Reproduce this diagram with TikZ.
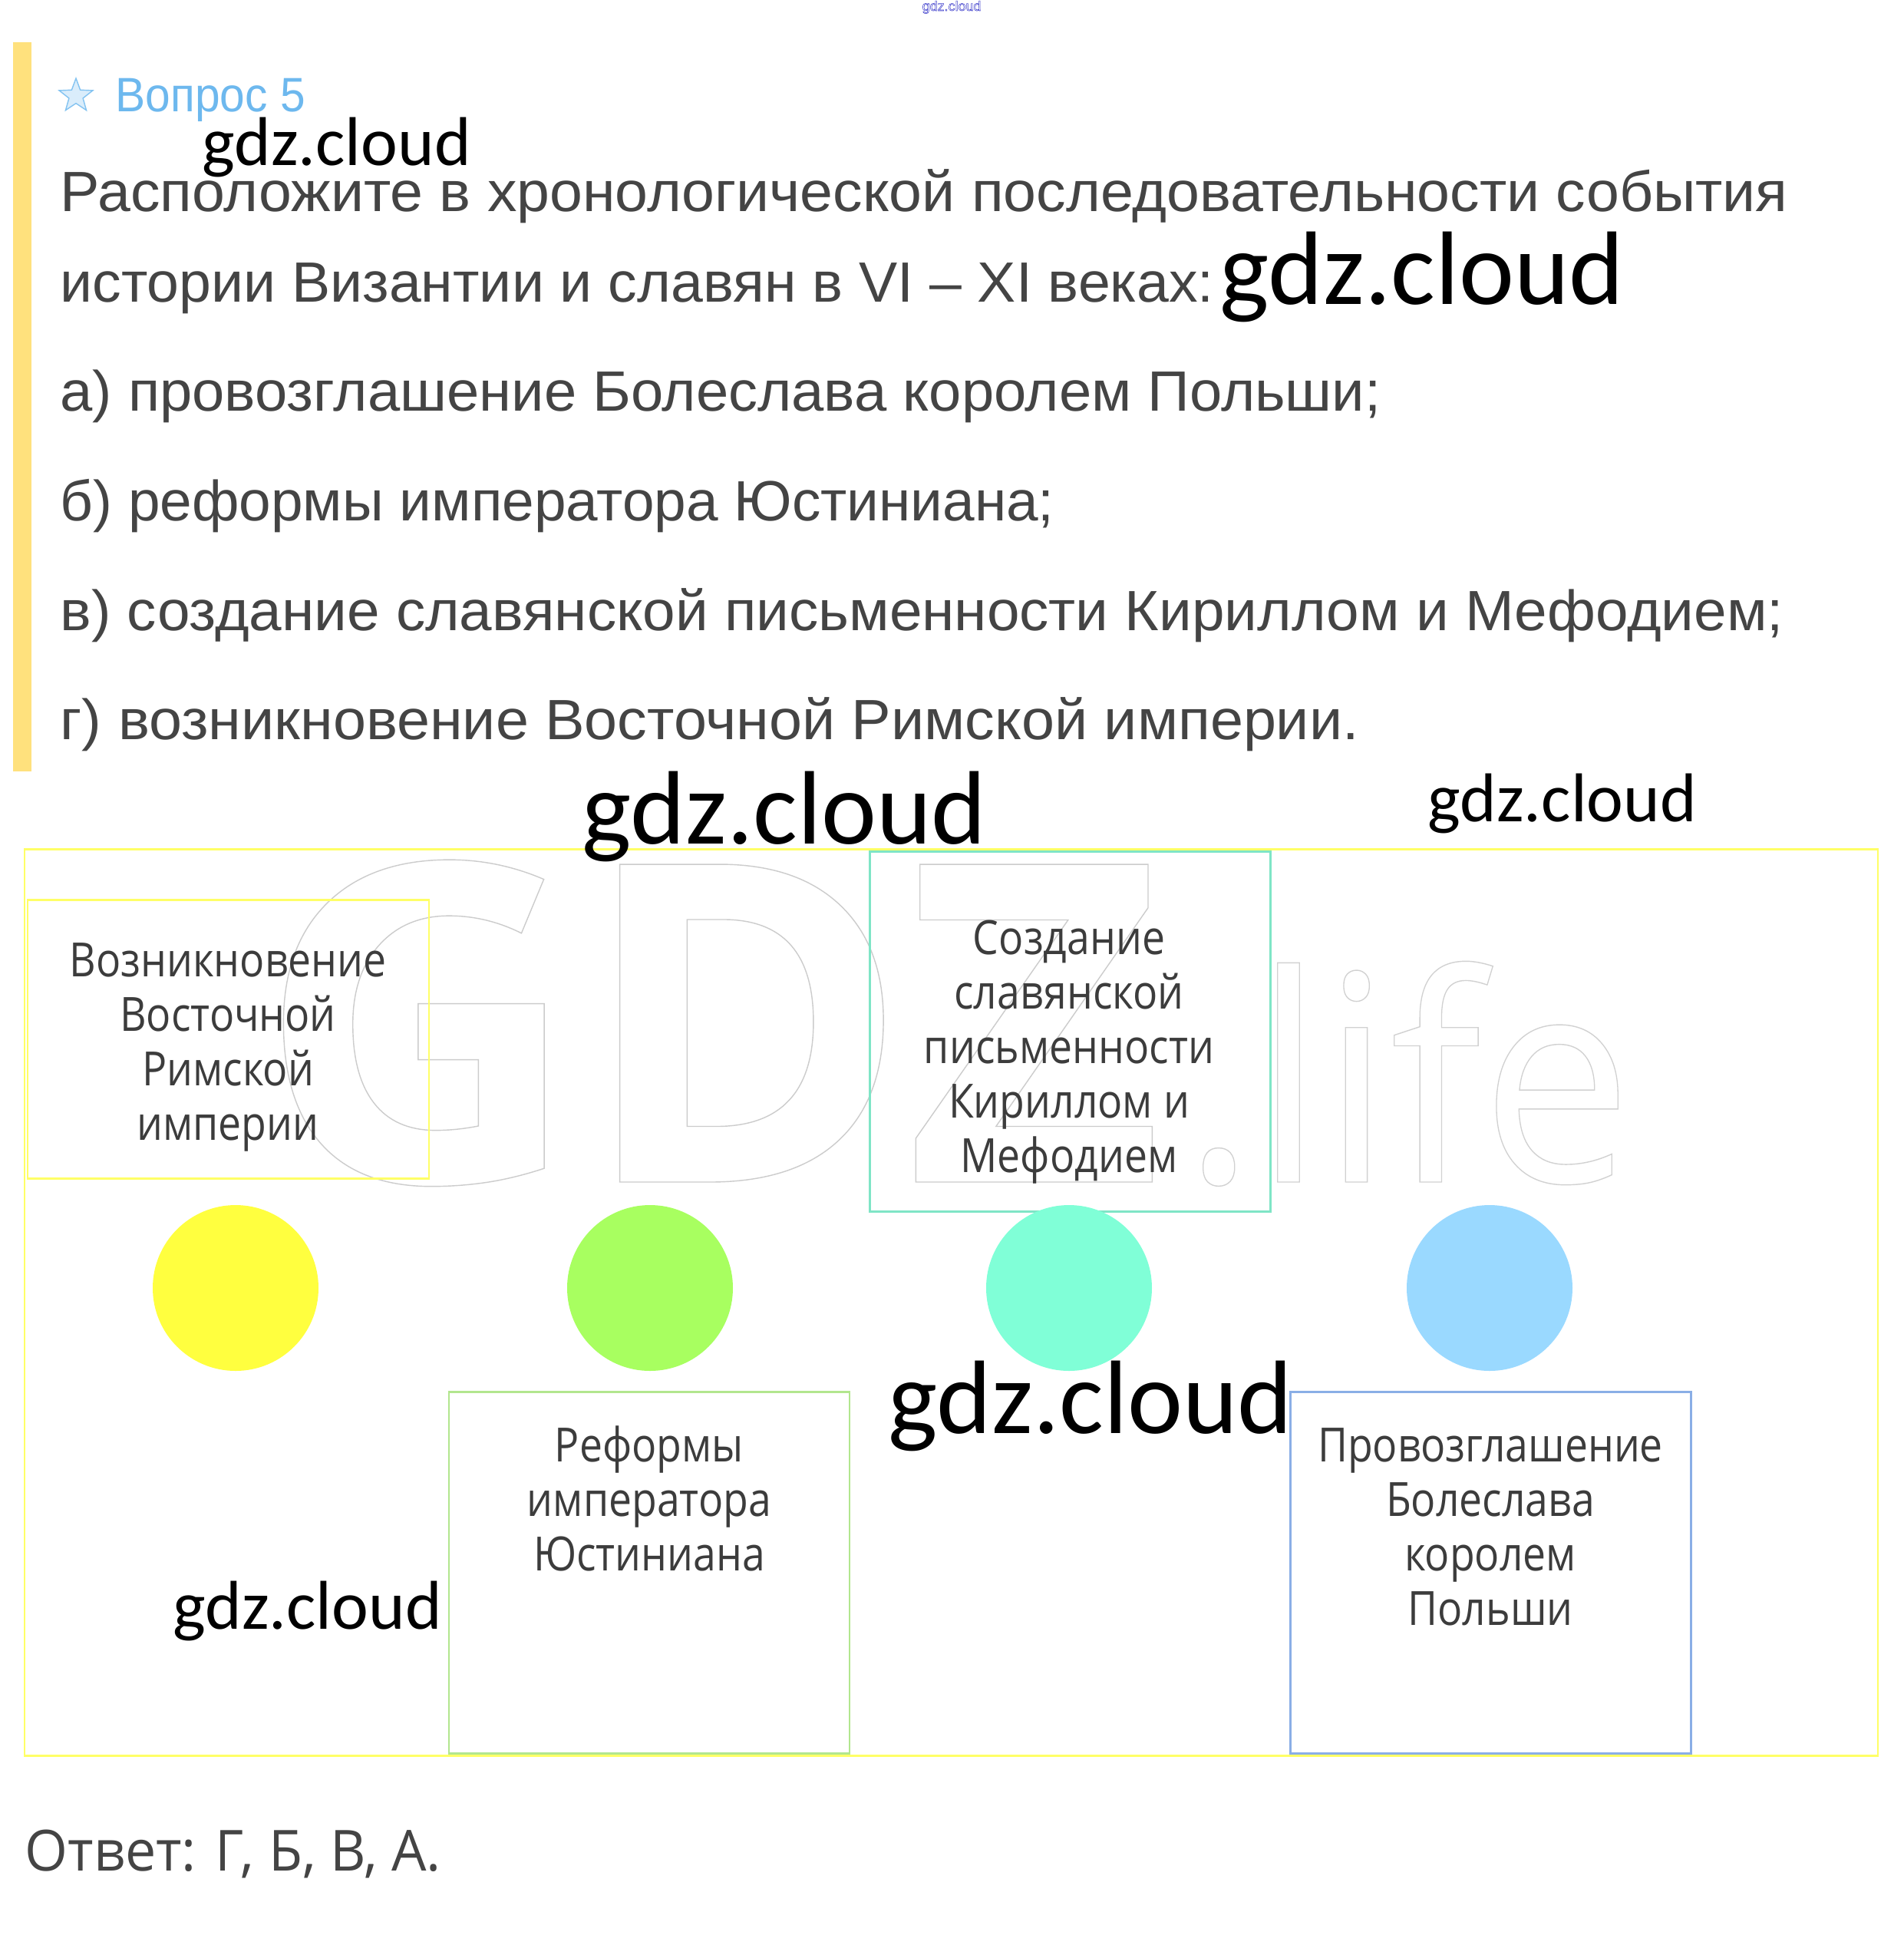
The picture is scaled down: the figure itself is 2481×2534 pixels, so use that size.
\documentclass[tikz,border=0pt]{standalone}
\usepackage{fontspec}
\usepackage{graphicx}
\usetikzlibrary{shapes.geometric}
\setmainfont{Liberation Sans}
\newfontfamily\qfont{Liberation Sans}
\newfontfamily\boxfont[FakeStretch=0.87]{Open Sans}
\newfontfamily\ansfont{Open Sans}
\newfontfamily\cloudfont{Carlito}
\newfontfamily\wmfont{Open Sans}
\newlength\pxu \setlength\pxu{0.1mm}
\newcommand\fitw[2]{\resizebox{#1\pxu}{\height}{#2}}
\newcommand\outl[3]{\special{pdf:literal direct #1 RG #2 w 1 Tr}#3\special{pdf:literal direct 0 Tr 0 G}}
\definecolor{qgray}{HTML}{444444}
\definecolor{bargold}{HTML}{FFE17D}
\definecolor{qblue}{HTML}{6DB8EE}
\definecolor{oyellow}{HTML}{FFFF66}
\definecolor{bteal}{HTML}{7FE5C6}
\definecolor{bgreen}{HTML}{B2E68E}
\definecolor{bblue}{HTML}{8AAEE6}
\definecolor{cyellow}{HTML}{FFFF3F}
\definecolor{cgreen}{HTML}{A8FF60}
\definecolor{cteal}{HTML}{80FFD7}
\definecolor{cblue}{HTML}{9AD9FF}
\definecolor{boxtext}{HTML}{3C3C3C}
\tikzset{
  qline/.style={anchor=base west, inner sep=0, text=qgray, font=\qfont\fontsize{21.05pt}{25pt}\selectfont},
  evbox/.style={draw=#1, line width=0.85pt, anchor=north west, inner sep=0, outer sep=0},
  boxtxt/.style={anchor=base, inner sep=0, text=boxtext, font=\boxfont\fontsize{17.5pt}{20pt}\selectfont},
  evdot/.style={circle, inner sep=0, minimum size=21.6mm, fill=#1},
  gdzmark/.style={anchor=base west, inner sep=0, text=black, font=\cloudfont\fontsize{#1}{#1}\selectfont},
}
\begin{document}
\begin{tikzpicture}[x=0.1mm,y=-0.1mm]
\useasboundingbox (0,0) rectangle (2481,2534);
\fill[white] (0,0) rectangle (2481,2534);
% faint watermark
\node[anchor=base west, inner sep=0, font=\wmfont\bfseries\fontsize{165pt}{165pt}\selectfont] (wmGDZ) at (335,1540) {\outl{0.8 0.8 0.8}{0.4}{GDZ}};
\node[anchor=base west, inner sep=0, font=\wmfont\fontsize{107pt}{107pt}\selectfont] (wmlife) at (1541,1540) {\scalebox{0.93}[1]{\outl{0.82 0.82 0.82}{0.4}{.life}}};
% top tag
\node[anchor=base west, inner sep=0, font=\qfont\fontsize{5.1pt}{6pt}\selectfont] (toptag) at (1201,14) {\outl{0.25 0.25 0.8}{0.15}{gdz.cloud}};
% left bar
\fill[bargold] (17,55) rectangle (41,1005);
% header
\node[star, star points=5, star point ratio=2.4, minimum size=4.6mm, draw=qblue!85, fill=qblue!25, inner sep=0, line width=0.4pt] (star) at (99,125) {};
\node[anchor=base west, inner sep=0, text=qblue, font=\qfont\fontsize{17.9pt}{20pt}\selectfont] (qnum) at (150,145) {\fitw{247}{Вопрос 5}};
% question
\node[qline] (q1) at (78,275) {\fitw{2251}{Расположите в хронологической последовательности события}};
\node[qline] (q2) at (78,393) {\fitw{1503}{истории Византии и славян в VI – XI веках:}};
\node[qline] (q3) at (78,535) {\fitw{1721}{а) провозглашение Болеслава королем Польши;}};
\node[qline] (q4) at (78,678) {\fitw{1295}{б) реформы императора Юстиниана;}};
\node[qline] (q5) at (78,821) {\fitw{2245}{в) создание славянской письменности Кириллом и Мефодием;}};
\node[qline] (q6) at (78,963) {\fitw{1692}{г) возникновение Восточной Римской империи.}};
% frames
\node[evbox=oyellow, minimum width=241.5mm, minimum height=118.1mm] (outer) at (32,1106) {};
\node[evbox=oyellow, minimum width=52.3mm, minimum height=36.3mm] (b1) at (36,1172) {};
\node[evbox=bteal, minimum width=52.2mm, minimum height=46.9mm] (b3) at (1133,1109) {};
\node[evbox=bgreen, minimum width=52.2mm, minimum height=47.1mm] (b2) at (585,1813) {};
\node[evbox=bblue, minimum width=52.2mm, minimum height=47.1mm] (b4) at (1681,1813) {};
% box texts
\foreach \t [count=\i] in {Возникновение, Восточной, Римской, империи}
  \node[boxtxt] (t1-\i) at (297,{1272+71*(\i-1)}) {\t};
\foreach \t [count=\i] in {Создание, славянской, письменности, Кириллом и, Мефодием}
  \node[boxtxt] (t3-\i) at (1393,{1243+71*(\i-1)}) {\t};
\foreach \t [count=\i] in {Реформы, императора, Юстиниана}
  \node[boxtxt] (t2-\i) at (846,{1904+71*(\i-1)}) {\t};
\foreach \t [count=\i] in {Провозглашение, Болеслава, королем, Польши}
  \node[boxtxt] (t4-\i) at (1942,{1904+71*(\i-1)}) {\t};
% circles
\node[evdot=cyellow] (c1) at (307,1678) {};
\node[evdot=cgreen] (c2) at (847,1678) {};
\node[evdot=cteal] (c3) at (1393,1678) {};
\node[evdot=cblue] (c4) at (1941,1678) {};
% answer
\node[anchor=base west, inner sep=0, text=qgray, font=\ansfont\fontsize{21pt}{25pt}\selectfont] (ans) at (32,2437) {\fitw{542}{Ответ: Г, Б, В, А.}};
% gdz.cloud marks
\node[gdzmark=25.6pt] (m1) at (263,215) {\fitw{350}{gdz.cloud}};
\node[gdzmark=38.7pt] (m2) at (1589,396) {\fitw{527}{gdz.cloud}};
\node[gdzmark=38.7pt] (m3) at (758,1099) {\fitw{527}{gdz.cloud}};
\node[gdzmark=25.6pt] (m4) at (1860,1070) {\fitw{350}{gdz.cloud}};
\node[gdzmark=38.7pt] (m5) at (1157,1867) {\fitw{527}{gdz.cloud}};
\node[gdzmark=25.6pt] (m6) at (225,2122) {\fitw{350}{gdz.cloud}};
\end{tikzpicture}
\end{document}
